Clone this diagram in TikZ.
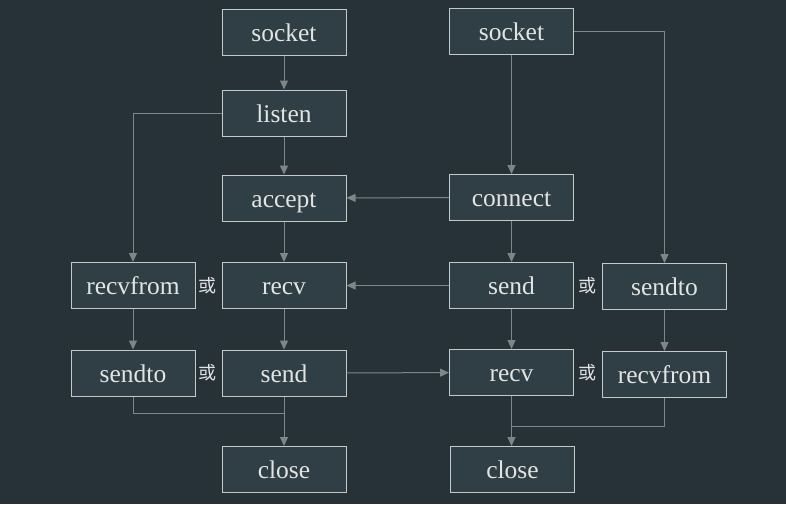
\documentclass[tikz,border=0pt]{standalone}
\usepackage{fontspec}
\setmainfont{Liberation Serif}
\newfontfamily\cjk{Noto Sans CJK SC}
\usetikzlibrary{arrows.meta}
\definecolor{bg}{HTML}{263238}
\definecolor{boxfill}{HTML}{303F46}
\definecolor{boxline}{HTML}{C4C8CA}
\definecolor{conn}{HTML}{7C878C}
\definecolor{txt}{HTML}{E2E4E4}
\begin{document}
\begin{tikzpicture}[x=1pt,y=-1pt,
  fn/.style={draw=boxline,fill=boxfill,line width=1pt,minimum width=124pt,minimum height=46pt,inner sep=0pt,text height=22pt,text depth=4pt,text=txt,font=\fontsize{25.5}{27}\selectfont},
  orlbl/.style={text=txt,font=\cjk\fontsize{18}{20}\selectfont,inner sep=0pt},
  ar/.style={draw=conn,line width=1pt,-{Triangle[length=9pt,width=8pt]}},
  ln/.style={draw=conn,line width=1pt}]
\fill[bg] (0,0) rectangle (786,504);
\useasboundingbox (0,0) rectangle (786,504);
% left column
\node[fn] (sockL) at (284,32.5) {socket};
\node[fn] (listen) at (284,113) {listen};
\node[fn] (accept) at (284,198) {accept};
\node[fn] (recvL) at (284,285.5) {recv};
\node[fn] (sendL) at (284,373) {send};
\node[fn] (closeL) at (284,469.5) {close};
\node[fn] (recvfromL) at (133,285.5) {recvfrom};
\node[fn] (sendtoL) at (133,373) {sendto};
% right column
\node[fn] (sockR) at (511.5,31.5) {socket};
\node[fn] (connect) at (511.5,197.5) {connect};
\node[fn] (sendR) at (511.5,285.5) {send};
\node[fn] (recvR) at (511.5,372.5) {recv};
\node[fn] (closeR) at (512.5,469.5) {close};
\node[fn] (sendtoR) at (664.5,286.5) {sendto};
\node[fn] (recvfromR) at (664.5,374.5) {recvfrom};
% or labels
\node[orlbl] (or1) at (207.5,285.5) {或};
\node[orlbl] (or2) at (207.5,373) {或};
\node[orlbl] (or3) at (587,285.5) {或};
\node[orlbl] (or4) at (587,373) {或};
% connectors left
\draw[ar] (sockL) -- (listen);
\draw[ar] (listen) -- (accept);
\draw[ar] (listen.west) -| (recvfromL.north);
\draw[ar] (accept) -- (recvL);
\draw[ar] (recvL) -- (sendL);
\draw[ar] (recvfromL) -- (sendtoL);
\draw[ar] (sendL) -- (closeL);
\coordinate (jL) at (284,413);
\draw[ln] (sendtoL.south) |- (jL);
% connectors right
\draw[ar] (sockR) -- (connect);
\draw[ar] (connect) -- (accept);
\draw[ar] (sockR.east) -| (sendtoR.north);
\draw[ar] (connect) -- (sendR);
\draw[ar] (sendR) -- (recvL);
\draw[ar] (sendL) -- (recvR);
\draw[ar] (sendR) -- (recvR);
\draw[ar] (sendtoR) -- (recvfromR);
\draw[ar] (recvR.south) -- (closeR.north -| recvR.south);
\coordinate (jR) at (511.5,426);
\draw[ln] (recvfromR.south) |- (jR);
\end{tikzpicture}
\end{document}
